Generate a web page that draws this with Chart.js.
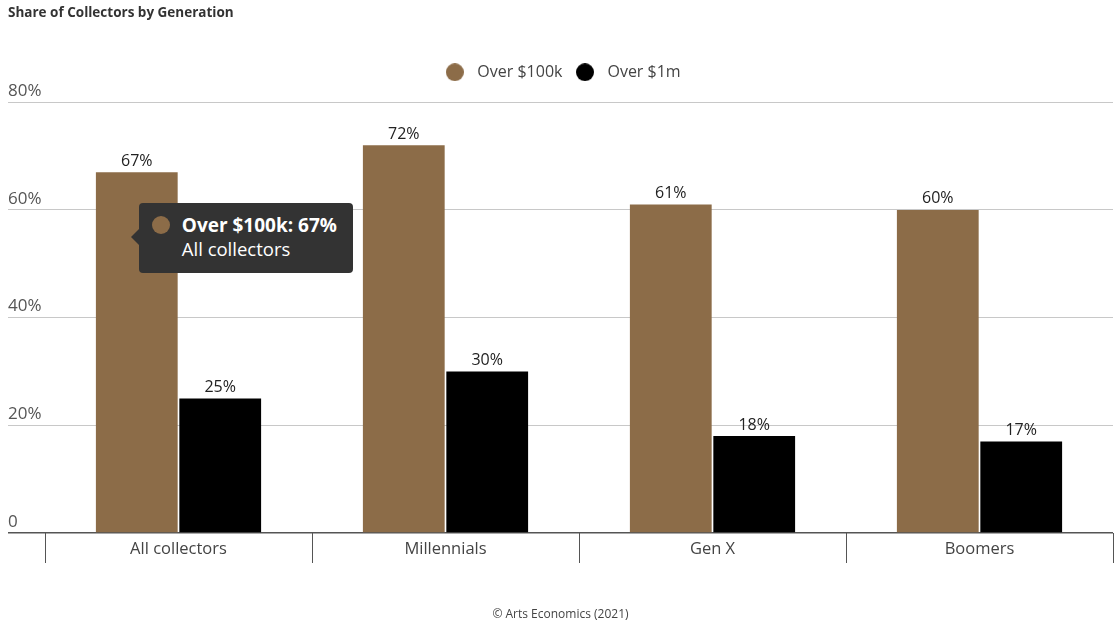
<!DOCTYPE html>
<html>
<head>
<meta charset="utf-8">
<script src="https://cdn.jsdelivr.net/npm/chart.js@4/dist/chart.umd.min.js"></script>
<style>
  html, body { margin: 0; padding: 0; background: #fff; }
  #wrap { position: relative; width: 1115px; height: 624px; }
  #tip {
    position: absolute; display: none; background: #333; color: #fff;
    border-radius: 4px; padding: 10px 16px 12px 13px;
    font-family: "Open Sans", sans-serif; font-size: 19px; line-height: 24px;
    white-space: nowrap; pointer-events: none;
  }
  #tip::before {
    content: ""; position: absolute; left: -8px; top: 26px;
    border-top: 8px solid transparent; border-bottom: 8px solid transparent;
    border-right: 8px solid #333;
  }
  #tip .row { display: flex; align-items: center; }
  #tip .dot { width: 18px; height: 18px; border-radius: 50%; margin-right: 12px; }
  #tip .title { font-weight: 700; }
  #tip .sub { padding-left: 30px; font-size: 18.5px; }
</style>
</head>
<body>
<div id="wrap">
  <canvas id="chart" width="1115" height="624"></canvas>
  <div id="tip"></div>
</div>
<script>
// Share of collectors by generation, in percent
const categories = ["All collectors", "Millennials", "Gen X", "Boomers"];
const over100k = [67, 72, 61, 60];
const over1m = [25, 30, 18, 17];
const seriesNames = ["Over $100k", "Over $1m"];
const yTicks = [0, 20, 40, 60, 80];

const BROWN = "#8c6c48";
const BLACK = "#000000";
const FONT = "'Open Sans', sans-serif";

// round legend markers with a bit of room on either side
function legendDot(color) {
  const c = document.createElement("canvas");
  c.width = 18; c.height = 18;
  const g = c.getContext("2d");
  g.fillStyle = color;
  g.beginPath(); g.arc(9, 9, 9, 0, Math.PI * 2); g.fill();
  return c;
}
const dots = [legendDot(BROWN), legendDot(BLACK)];

// value labels above each bar
const valueLabels = {
  id: "valueLabels",
  afterDatasetsDraw(chart) {
    const ctx = chart.ctx;
    ctx.save();
    ctx.font = "16px " + FONT;
    ctx.fillStyle = "#222";
    ctx.textAlign = "center";
    ctx.textBaseline = "bottom";
    chart.data.datasets.forEach((ds, di) => {
      chart.getDatasetMeta(di).data.forEach((bar, i) => {
        ctx.fillText(ds.data[i] + "%", bar.x, bar.y - 3);
      });
    });
    ctx.restore();
  }
};

// extra space between the legend and the plot
const legendGap = {
  id: "legendGap",
  afterInit(chart) {
    const legend = chart.legend;
    if (!legend) return;
    const fit = legend.fit;
    legend.fit = function () {
      fit.call(this);
      this.height += 12;
    };
  }
};

Chart.Tooltip.positioners.sideOfBar = function (items, eventPosition) {
  if (!items.length) return false;
  return { x: items[0].element.x - 6, y: eventPosition.y };
};

function htmlTooltip(context) {
  const { chart, tooltip } = context;
  const tip = document.getElementById("tip");
  if (tooltip.opacity === 0 || !tooltip.dataPoints || !tooltip.dataPoints.length) {
    tip.style.display = "none";
    return;
  }
  const dp = tooltip.dataPoints[0];
  const color = chart.data.datasets[dp.datasetIndex].backgroundColor;
  tip.innerHTML =
    '<div class="row"><span class="dot" style="background:' + color + '"></span>' +
    '<span class="title">' + dp.dataset.label + ": " + dp.raw + "%</span></div>" +
    '<div class="sub">' + dp.label + "</div>";
  tip.style.display = "block";
  tip.style.left = (tooltip.caretX + 8) + "px";
  tip.style.top = (tooltip.caretY - 34) + "px";
}

const chart = new Chart(document.getElementById("chart"), {
  type: "bar",
  data: {
    labels: categories,
    datasets: [
      { label: seriesNames[0], data: over100k, backgroundColor: BROWN, pointStyle: dots[0] },
      { label: seriesNames[1], data: over1m, backgroundColor: BLACK, pointStyle: dots[1] }
    ]
  },
  options: {
    responsive: false,
    animation: false,
    layout: { padding: { left: 8, right: 2, top: 0, bottom: 0 } },
    datasets: { bar: { categoryPercentage: 0.625, barPercentage: 0.98 } },
    scales: {
      x: {
        grid: { display: true, drawOnChartArea: false, drawTicks: true, tickLength: 30, color: "#555", offset: true },
        border: { display: false },
        ticks: { color: "#444", font: { family: FONT, size: 16.5 }, padding: -24 },
        afterFit(scale) { scale.height = 30; }
      },
      y: {
        min: 0, max: 80,
        afterBuildTicks(scale) { scale.ticks = yTicks.map(v => ({ value: v })); },
        grid: {
          drawTicks: true, tickLength: 37,
          color: ctx => (ctx.tick && ctx.tick.value === 0 ? "#555" : "#c8c8c8"),
          lineWidth: ctx => (ctx.tick && ctx.tick.value === 0 ? 1.5 : 1)
        },
        border: { display: false },
        ticks: {
          crossAlign: "far", labelOffset: -11, padding: 0,
          color: "#555", font: { family: FONT, size: 17 },
          callback: v => (v === 0 ? "0" : v + "%")
        },
        afterFit(scale) { scale.width = 37; }
      }
    },
    plugins: {
      title: {
        display: true, text: "Share of Collectors by Generation", align: "start",
        color: "#333", font: { family: FONT, size: 13.5, weight: "bold" },
        padding: { top: 5.5, bottom: 34.5 }
      },
      subtitle: {
        display: true, position: "bottom", text: "© Arts Economics (2021)",
        color: "#444", font: { family: FONT, size: 12 },
        padding: { top: 44.6, bottom: 2 }
      },
      legend: {
        position: "top",
        labels: {
          usePointStyle: true, pointStyleWidth: 29, boxHeight: 16,
          padding: 8, color: "#444", font: { family: FONT, size: 16 }
        }
      },
      tooltip: { enabled: false, position: "sideOfBar", external: htmlTooltip }
    }
  },
  plugins: [valueLabels, legendGap]
});

// hover state on the first bar
const first = chart.getDatasetMeta(0).data[0];
chart.tooltip.setActiveElements([{ datasetIndex: 0, index: 0 }],
  { x: first.x, y: chart.scales.y.getPixelForValue(55) });
chart.update();
</script>
</body>
</html>
